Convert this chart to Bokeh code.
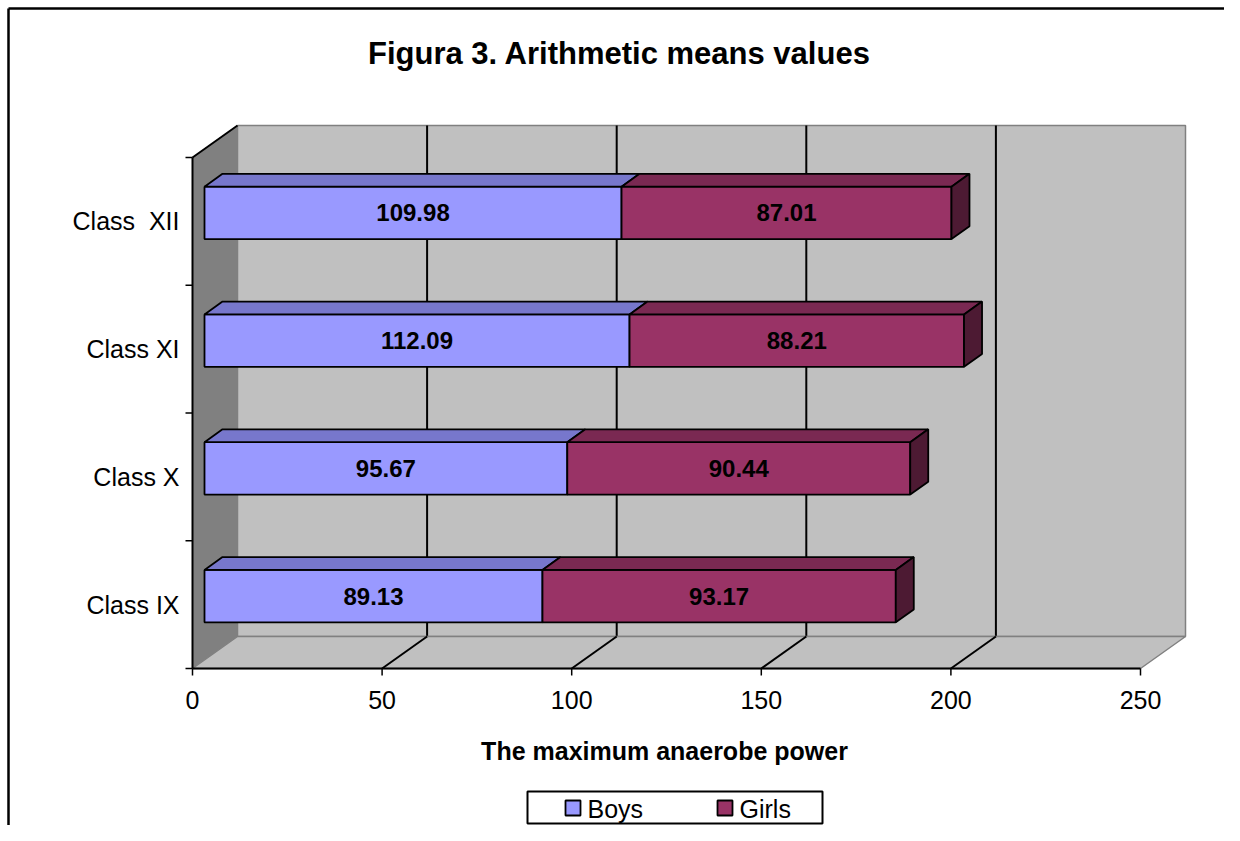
from bokeh.plotting import figure
from bokeh.models import Range1d
from bokeh.core.properties import value
from bokeh.embed import file_html
from bokeh.resources import INLINE

# ---------------- data ----------------
categories = ["Class IX", "Class X", "Class XI", "Class \u00a0XII"]
boys = [89.13, 95.67, 112.09, 109.98]
girls = [93.17, 90.44, 88.21, 87.01]
series_names = ["Boys", "Girls"]
x_ticks = [0, 50, 100, 150, 200, 250]
x_tick_labels = ["0", "50", "100", "150", "200", "250"]
title_text = "Figura 3. Arithmetic means values"
x_title_text = "The maximum anaerobe power"

# ---------------- geometry ----------------
W, H = 1224, 825
PX0 = 192.0        # canvas x of value 0 (front axis)
PY0 = 668.0        # canvas y (from top) of the front floor edge
SX = 3.792         # px per value unit
SY = 127.75        # px per category unit
NCAT = len(categories)
XMAX = x_ticks[-1]

def px2x(px):
    return (px - PX0) / SX

def px2y(py):
    return (PY0 - py) / SY

DXu = 45.0 / SX    # 3D depth offset in value units
DYu = 32.0 / SY    # 3D depth offset in category units
F0 = 12.0 / 45.0   # depth fraction of bar front face
FD = 18.0 / 45.0   # bar depth fraction
HALF = 0.205       # half bar height (category units)

FONT = value("Liberation Sans")

p = figure(width=W, height=H, output_backend="svg", toolbar_location=None,
           x_range=Range1d(px2x(0), px2x(W)),
           y_range=Range1d(px2y(H), px2y(0)),
           x_axis_type=None, y_axis_type=None, min_border=0)
p.outline_line_color = None
p.background_fill_color = "white"
p.border_fill_color = "white"

# chart border (top & left visible)
bx_l = px2x(8)
by_t = px2y(8)
p.segment(x0=[bx_l, bx_l], y0=[px2y(H), by_t],
          x1=[bx_l, px2x(W)], y1=[by_t, by_t],
          line_color="black", line_width=2.5)

# back wall
p.quad(left=[DXu], right=[XMAX + DXu], bottom=[DYu], top=[NCAT + DYu],
       fill_color="#C0C0C0", line_color="#808080", line_width=1.5)
grid_vals = [v for v in x_ticks if 0 < v < XMAX]
p.segment(x0=[v + DXu for v in grid_vals], y0=[DYu] * len(grid_vals),
          x1=[v + DXu for v in grid_vals], y1=[NCAT + DYu] * len(grid_vals),
          line_color="black", line_width=2)

# left wall
p.patch(x=[0, 0, DXu, DXu], y=[0, NCAT, NCAT + DYu, DYu],
        fill_color="#808080", line_color="#808080", line_width=1)
p.segment(x0=[0], y0=[NCAT], x1=[DXu], y1=[NCAT + DYu], line_color="black", line_width=2)

# floor
p.patch(x=[0, XMAX, XMAX + DXu, DXu], y=[0, 0, DYu, DYu],
        fill_color="#C0C0C0", line_color="#808080", line_width=1.5)
p.segment(x0=grid_vals, y0=[0] * len(grid_vals),
          x1=[v + DXu for v in grid_vals], y1=[DYu] * len(grid_vals),
          line_color="black", line_width=2)

# front axes
p.segment(x0=[0], y0=[0], x1=[XMAX], y1=[0], line_color="black", line_width=2)
p.segment(x0=x_ticks, y0=[0] * len(x_ticks), x1=x_ticks, y1=[-7.0 / SY] * len(x_ticks),
          line_color="black", line_width=1.5)
p.segment(x0=[0], y0=[0], x1=[0], y1=[NCAT], line_color="black", line_width=2)
cat_edges = list(range(NCAT + 1))
p.segment(x0=[0] * len(cat_edges), y0=cat_edges, x1=[-7.0 / SX] * len(cat_edges), y1=cat_edges,
          line_color="black", line_width=1.5)

# bars
bx0 = F0 * DXu
ddx = FD * DXu
ddy = FD * DYu
yc = [i + 0.5 + F0 * DYu for i in range(NCAT)]
boys_end = [bx0 + b for b in boys]
girls_end = [bx0 + b + g for b, g in zip(boys, girls)]

def top_faces(starts, ends):
    xs, ys = [], []
    for s, e, c in zip(starts, ends, yc):
        t = c + HALF
        xs.append([s, e, e + ddx, s + ddx])
        ys.append([t, t, t + ddy, t + ddy])
    return xs, ys

# boys
p.quad(left=[bx0] * NCAT, right=boys_end, bottom=[c - HALF for c in yc], top=[c + HALF for c in yc],
       fill_color="#9999FF", line_color="black", line_width=1.8)
bxs, bys = top_faces([bx0] * NCAT, boys_end)
p.patches(xs=bxs, ys=bys, fill_color="#7777CC", line_color="black", line_width=1.8)
# girls
p.quad(left=boys_end, right=girls_end, bottom=[c - HALF for c in yc], top=[c + HALF for c in yc],
       fill_color="#993366", line_color="black", line_width=1.8)
gxs, gys = top_faces(boys_end, girls_end)
p.patches(xs=gxs, ys=gys, fill_color="#7A2952", line_color="black", line_width=1.8)
sxs = [[e, e, e + ddx, e + ddx] for e in girls_end]
sys_ = [[c - HALF, c + HALF, c + HALF + ddy, c - HALF + ddy] for c in yc]
p.patches(xs=sxs, ys=sys_, fill_color="#4D1A33", line_color="black", line_width=1.8)

# data labels
p.text(x=[bx0 + b / 2 for b in boys], y=yc, text=["%.2f" % b for b in boys],
       text_align="center", text_baseline="middle", text_font=FONT,
       text_font_style="bold", text_font_size="24px", text_color="black")
p.text(x=[bx0 + b + g / 2 for b, g in zip(boys, girls)], y=yc, text=["%.2f" % g for g in girls],
       text_align="center", text_baseline="middle", text_font=FONT,
       text_font_style="bold", text_font_size="24px", text_color="black")

# tick labels
p.text(x=x_ticks, y=[px2y(699)] * len(x_ticks), text=x_tick_labels,
       text_align="center", text_baseline="middle", text_font=FONT,
       text_font_size="25px", text_color="black")
p.text(x=[px2x(179)] * NCAT, y=[i + 0.5 for i in range(NCAT)], text=categories,
       text_align="right", text_baseline="middle", text_font=FONT,
       text_font_size="25px", text_color="black")

# titles
p.text(x=[px2x(619)], y=[px2y(53)], text=[title_text], text_align="center",
       text_baseline="middle", text_font=FONT, text_font_style="bold",
       text_font_size="31px", text_color="black")
p.text(x=[px2x(664)], y=[px2y(750)], text=[x_title_text], text_align="center",
       text_baseline="middle", text_font=FONT, text_font_style="bold",
       text_font_size="25px", text_color="black")

# legend (drawn box)
p.quad(left=[px2x(527)], right=[px2x(822)], bottom=[px2y(823)], top=[px2y(791)],
       fill_color="white", line_color="black", line_width=2)
p.quad(left=[px2x(565), px2x(717)], right=[px2x(580), px2x(732)],
       bottom=[px2y(815)] * 2, top=[px2y(800)] * 2,
       fill_color=["#9999FF", "#993366"], line_color="black", line_width=1.8)
p.text(x=[px2x(587), px2x(739)], y=[px2y(808)] * 2, text=series_names,
       text_align="left", text_baseline="middle", text_font=FONT,
       text_font_size="25px", text_color="black")

open("out.html", "w").write(file_html(p, INLINE))
